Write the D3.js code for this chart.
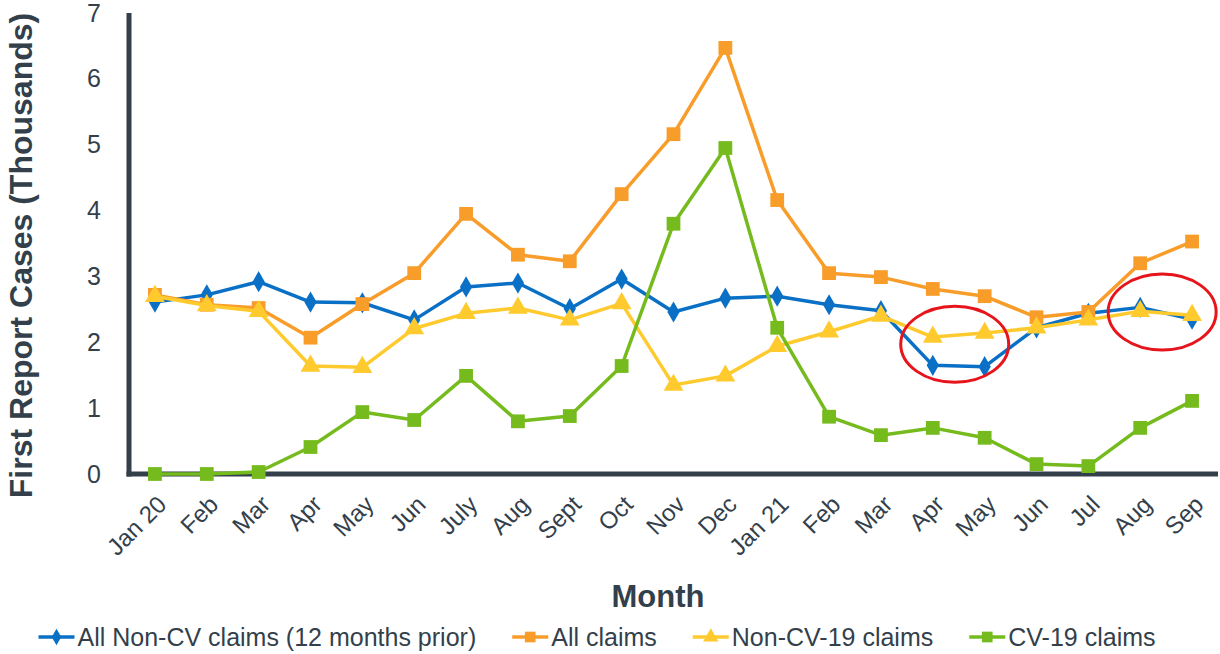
<!DOCTYPE html>
<html>
<head>
<meta charset="utf-8">
<script src="https://cdn.jsdelivr.net/npm/d3@7"></script>
<style>
  html, body { margin: 0; padding: 0; background: #fff; }
  svg { display: block; font-family: "Liberation Sans", Arial, sans-serif; }
</style>
</head>
<body>
<svg id="chart" width="1220" height="654"></svg>
<script>
const months = ["Jan 20","Feb","Mar","Apr","May","Jun","July","Aug","Sept","Oct","Nov","Dec","Jan 21","Feb","Mar","Apr","May","Jun","Jul","Aug","Sep"];
const nonCvPrior = [2.61,2.72,2.92,2.61,2.60,2.34,2.84,2.90,2.51,2.96,2.46,2.67,2.70,2.57,2.48,1.65,1.63,2.22,2.44,2.53,2.35];
const allClaims  = [2.72,2.57,2.52,2.07,2.58,3.05,3.95,3.33,3.23,4.25,5.16,6.47,4.16,3.05,2.99,2.81,2.70,2.38,2.46,3.20,3.53];
const nonCv19    = [2.70,2.56,2.47,1.64,1.62,2.21,2.44,2.52,2.34,2.59,1.35,1.49,1.94,2.16,2.40,2.08,2.14,2.22,2.34,2.47,2.41];
const cv19       = [0.00,0.00,0.03,0.41,0.94,0.82,1.49,0.80,0.88,1.64,3.80,4.95,2.22,0.87,0.59,0.70,0.55,0.15,0.12,0.70,1.11];
const yTicks = [0,1,2,3,4,5,6,7];
const seriesNames = ["All Non-CV claims (12 months prior)","All claims","Non-CV-19 claims","CV-19 claims"];
// annotation ellipses: [month index start, month index end, centre value]
const highlights = [[15,16,1.97],[19,20,2.46]];

const series = [
  {name: seriesNames[0], values: nonCvPrior, color: "#0a70c6", shape: "diamond"},
  {name: seriesNames[1], values: allClaims,  color: "#f89c2a", shape: "square"},
  {name: seriesNames[2], values: nonCv19,    color: "#ffca2e", shape: "triangle"},
  {name: seriesNames[3], values: cv19,       color: "#76bb1e", shape: "square"}
];

const axisColor = "#333f4b";
const svg = d3.select("#chart");
const margin = {left: 129, top: 13};
const plotBottom = 474;

const x = d3.scaleBand().domain(d3.range(months.length)).range([margin.left, 1218]).paddingInner(0).paddingOuter(0);
const y = d3.scaleLinear().domain([0, 7]).range([plotBottom, margin.top]);
const cx = i => x(i) + x.bandwidth() / 2;

// Y axis
const yAxis = svg.append("g").attr("transform", `translate(${margin.left},0)`)
  .call(d3.axisLeft(y).tickValues(yTicks).tickSize(0).tickPadding(28).tickFormat(d3.format("d")));
yAxis.select(".domain").remove();
yAxis.selectAll("text").attr("fill", axisColor).attr("font-size", 25).attr("font-family", "Liberation Sans, Arial, sans-serif");

// X axis labels
const xAxis = svg.append("g").attr("transform", `translate(0,${plotBottom})`)
  .call(d3.axisBottom(x).tickSize(0).tickFormat(i => months[i]));
xAxis.select(".domain").remove();
xAxis.selectAll("text")
  .attr("fill", axisColor).attr("font-size", 24).attr("font-family", "Liberation Sans, Arial, sans-serif")
  .attr("text-anchor", "end")
  .attr("transform", "translate(7,26) rotate(-45)")
  .attr("dy", "0.35em").attr("y", 0);

// axis lines
svg.append("line").attr("x1", margin.left).attr("x2", margin.left).attr("y1", y(7)).attr("y2", plotBottom + 2.5)
  .attr("stroke", axisColor).attr("stroke-width", 5);
svg.append("line").attr("x1", margin.left - 2.5).attr("x2", 1218).attr("y1", plotBottom).attr("y2", plotBottom)
  .attr("stroke", axisColor).attr("stroke-width", 5);

// axis titles
svg.append("text").attr("transform", `translate(32,${(y(7)+plotBottom)/2 + 12}) rotate(-90)`)
  .attr("text-anchor", "middle").attr("font-weight", "bold").attr("font-size", 32).attr("fill", axisColor)
  .text("First Report Cases (Thousands)");
svg.append("text").attr("x", 658).attr("y", 607)
  .attr("text-anchor", "middle").attr("font-weight", "bold").attr("font-size", 31).attr("fill", axisColor)
  .text("Month");

function symbolFor(shape, size) {
  const t = shape === "diamond" ? d3.symbolDiamond : shape === "triangle" ? d3.symbolTriangle : d3.symbolSquare;
  return d3.symbol().type(t).size(size)();
}
const sizes = {diamond: 130, square: 190, triangle: 170};

const line = d3.line().x((d, i) => cx(i)).y(d => y(d));
series.forEach(s => {
  const g = svg.append("g");
  g.append("path").attr("d", line(s.values)).attr("fill", "none").attr("stroke", s.color).attr("stroke-width", 3.5).attr("stroke-linejoin", "round");
  g.selectAll("path.m").data(s.values).enter().append("path").attr("class", "m")
    .attr("transform", (d, i) => `translate(${cx(i)},${y(d)})`)
    .attr("d", symbolFor(s.shape, sizes[s.shape])).attr("fill", s.color);
});

// highlight ellipses
highlights.forEach(h => {
  svg.append("ellipse")
    .attr("cx", (cx(h[0]) + cx(h[1])) / 2 - 4)
    .attr("cy", y(h[2]))
    .attr("rx", 54).attr("ry", 38)
    .attr("fill", "none").attr("stroke", "#e8141b").attr("stroke-width", 3);
});

// legend
const legend = svg.append("g");
let lx = 0;
series.forEach(s => {
  const g = legend.append("g").attr("transform", `translate(${lx},0)`);
  g.append("line").attr("x1", 0).attr("x2", 36).attr("y1", 0).attr("y2", 0).attr("stroke", s.color).attr("stroke-width", 3.5);
  g.append("path").attr("transform", "translate(18,0)").attr("d", symbolFor(s.shape, sizes[s.shape] * 0.6)).attr("fill", s.color);
  const t = g.append("text").attr("x", 39).attr("y", 9).attr("font-size", 25).attr("fill", axisColor).text(s.name);
  lx += 39 + t.node().getComputedTextLength() + 36;
});
const total = lx - 36;
legend.attr("transform", `translate(${597 - total / 2},637)`);
</script>
</body>
</html>
